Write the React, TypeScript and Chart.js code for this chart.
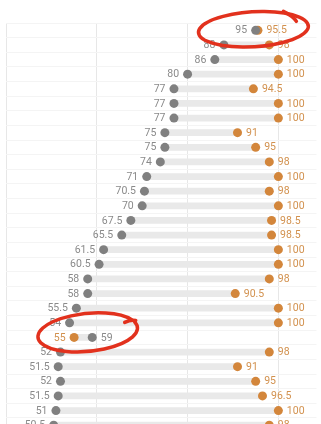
import React, { useEffect, useRef } from "react";
import { Chart, registerables } from "chart.js";

Chart.register(...registerables);

const rowLabels = ["1","2","3","4","5","6","7","8","9","10","11","12","13","14","15","16","17","18","19","20","21","22","23","24","25","26","27","28"];
const grayValues = [95, 88, 86, 80, 77, 77, 77, 75, 75, 74, 71, 70.5, 70, 67.5, 65.5, 61.5, 60.5, 58, 58, 55.5, 54, 59, 52, 51.5, 52, 51.5, 51, 50.5];
const orangeValues = [95.5, 98, 100, 100, 94.5, 100, 100, 91, 95, 98, 100, 98, 100, 98.5, 98.5, 100, 100, 98, 90.5, 100, 100, 55, 98, 91, 95, 96.5, 100, 98];
const xTicks = [40, 60, 80, 100];
const highlightRows = [0, 21];

const GRAY = "#808080";
const ORANGE = "#d3863b";
const GRAY_TXT = "#8a8a8a";
const ORANGE_TXT = "#d2914e";

const labelPlugin = {
  id: "dumbbellLabels",
  afterDatasetsDraw(chart: any) {
    const ctx = chart.ctx;
    const g = chart.getDatasetMeta(1);
    const o = chart.getDatasetMeta(2);
    ctx.save();
    ctx.font = "10.5px Roboto";
    ctx.textBaseline = "middle";
    for (let i = 0; i < rowLabels.length; i++) {
      const gp = g.data[i];
      const op = o.data[i];
      if (!gp || !op) continue;
      const gv = grayValues[i];
      const ov = orangeValues[i];
      const grayLeft = gv <= ov;
      ctx.fillStyle = GRAY_TXT;
      ctx.textAlign = grayLeft ? "right" : "left";
      ctx.fillText(String(gv), gp.x + (grayLeft ? -8.5 : 8.5), gp.y + 0.5);
      ctx.fillStyle = ORANGE_TXT;
      ctx.textAlign = grayLeft ? "left" : "right";
      ctx.fillText(String(ov), op.x + (grayLeft ? 8.5 : -8.5), op.y + 0.5);
    }
    ctx.restore();
  },
};

const markerPlugin = {
  id: "handMarks",
  afterDraw(chart: any) {
    const ctx = chart.ctx;
    const xs = chart.scales.x;
    const ys = chart.scales.y;
    ctx.save();
    ctx.strokeStyle = "#e2311d";
    ctx.lineWidth = 3.5;
    ctx.lineCap = "round";
    ctx.lineJoin = "round";
    {
      const r = highlightRows[0];
      const cx = xs.getPixelForValue(94.5);
      const cy = ys.getPixelForValue(r) - 1;
      ctx.beginPath();
      ctx.ellipse(cx, cy, 55, 17.5, -0.06, -1.35, Math.PI * 2 - 0.55);
      ctx.stroke();
      ctx.beginPath();
      ctx.moveTo(cx + 30, cy - 18);
      ctx.quadraticCurveTo(cx + 40, cy - 13, cx + 43, cy - 8);
      ctx.stroke();
    }
    {
      const r = highlightRows[1];
      const cx = xs.getPixelForValue(58);
      const cy = ys.getPixelForValue(r) - 5;
      ctx.beginPath();
      ctx.ellipse(cx, cy, 50, 19, -0.1, -0.3, Math.PI * 2 - 0.45);
      ctx.stroke();
      ctx.beginPath();
      ctx.moveTo(cx + 37, cy - 10);
      ctx.quadraticCurveTo(cx + 43, cy - 13, cx + 48, cy - 12);
      ctx.stroke();
    }
    ctx.restore();
  },
};

export default function App() {
  const ref = useRef<HTMLCanvasElement | null>(null);
  useEffect(() => {
    document.body.style.margin = "0";
    document.body.style.overflow = "hidden";
    if (!ref.current) return;
    const chart = new Chart(ref.current, {
      type: "bar",
      data: {
        labels: rowLabels,
        datasets: [
          {
            type: "bar",
            data: grayValues.map((g, i) => [Math.min(g, orangeValues[i]), Math.max(g, orangeValues[i])]),
            backgroundColor: "#e9e9e9",
            barThickness: 6,
            borderWidth: 0,
            order: 3,
          } as any,
          {
            type: "scatter",
            data: grayValues.map((v, i) => ({ x: v, y: rowLabels[i] })),
            backgroundColor: GRAY,
            borderWidth: 0,
            pointRadius: 4.5,
            order: 1,
          } as any,
          {
            type: "scatter",
            data: orangeValues.map((v, i) => ({ x: v, y: rowLabels[i] })),
            backgroundColor: ORANGE,
            borderWidth: 0,
            pointRadius: 4.5,
            order: 2,
          } as any,
        ],
      },
      plugins: [labelPlugin, markerPlugin],
      options: {
        indexAxis: "y",
        animation: false,
        responsive: false,
        maintainAspectRatio: false,
        layout: { padding: { left: 6, top: 23, right: 0, bottom: 0 } },
        plugins: { legend: { display: false }, tooltip: { enabled: false } },
        scales: {
          x: {
            type: "linear",
            min: 40,
            max: 108.4,
            afterBuildTicks: (axis: any) => {
              axis.ticks = xTicks.map((v) => ({ value: v }));
            },
            ticks: { display: false },
            grid: { color: "#e7e7e7", drawTicks: false, lineWidth: 1 },
            border: { display: false },
          },
          y: {
            type: "category",
            offset: true,
            ticks: { display: false },
            grid: { color: "#f4f4f4", drawTicks: false, offset: true },
            border: { display: false },
          },
        },
      } as any,
    });
    return () => chart.destroy();
  }, []);
  return (
    <div style={{ width: 321, height: 437 }}>
      <canvas ref={ref} width={321} height={437} style={{ display: "block" }} />
    </div>
  );
}
